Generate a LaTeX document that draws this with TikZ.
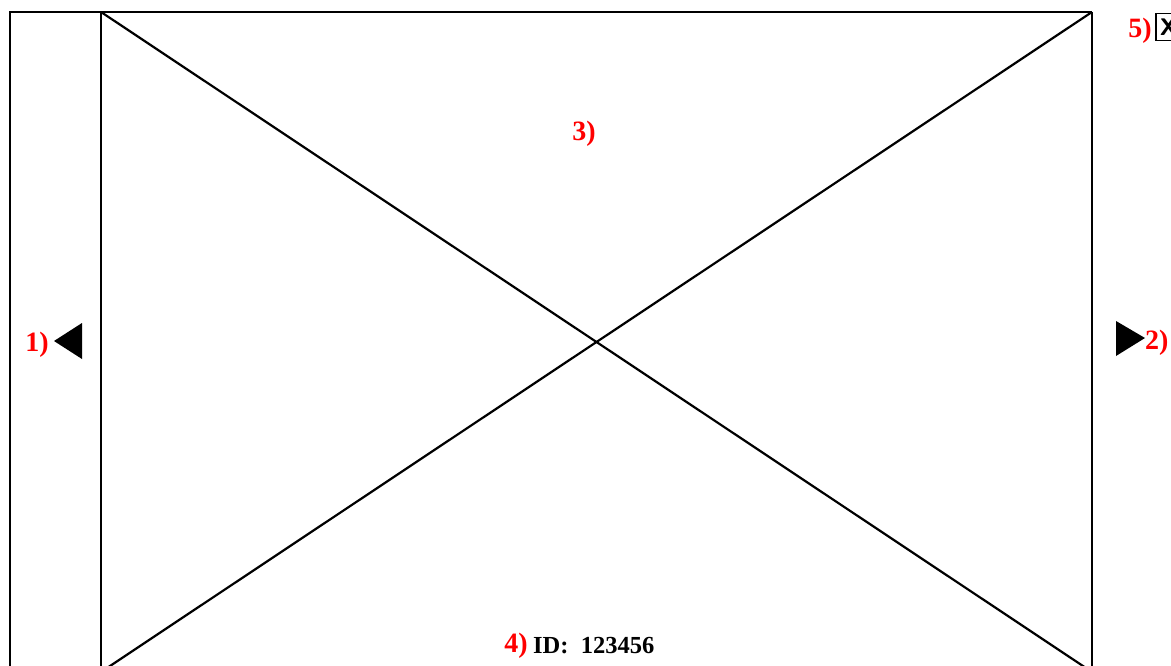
\documentclass[tikz,border=0pt]{standalone}
\usepackage{fontspec}
\setmainfont{Liberation Serif}
\begin{document}
\begin{tikzpicture}[x=1pt,y=-1pt,
  frame/.style={line width=2.2pt,black},
  redlab/.style={text=red,font=\bfseries\fontsize{28}{28}\selectfont,inner sep=0pt},
  blacklab/.style={text=black,font=\bfseries\fontsize{24.5}{24.5}\selectfont,inner sep=0pt},
  arrowtri/.style={fill=black,draw=none}]
\useasboundingbox (0,0) rectangle (1171,666);
\clip (0,0) rectangle (1171,666);
\coordinate (otl) at (10,12);
\coordinate (obl) at (10,672);
\coordinate (itl) at (101,12);
\coordinate (itr) at (1092,12);
\coordinate (ibl) at (101,672);
\coordinate (ibr) at (1092,672);
% outer frame
\draw[frame] (obl) -- (otl) -- (itr);
% inner image placeholder
\draw[frame] (itl) -- (ibl);
\draw[frame] (itr) -- (ibr);
\draw[frame] (ibl) -- (ibr);
\draw[frame] (itl) -- (ibr);
\draw[frame] (itr) -- (ibl);
% arrows
\fill[arrowtri] (54,341) -- (82,323) -- (82,359) -- cycle;
\fill[arrowtri] (1116,321) -- (1145,338) -- (1116,356) -- cycle;
% labels
\node[redlab,anchor=east] (l1) at (49,345) {1)};
\node[redlab,anchor=west] (l2) at (1145,343) {2)};
\node[redlab] (l3) at (584,134) {3)};
\node[redlab,anchor=east] (l4) at (528,646) {4)};
\node[blacklab,anchor=west] (id) at (533,646) {ID:\ \ 123456};
\node[redlab,anchor=east] (l5) at (1152,31) {5)};
% close box
\node[draw,line width=1.5pt,anchor=north west,minimum width=30pt,minimum height=27pt,inner sep=0pt,font=\sffamily\bfseries\fontsize{24}{24}\selectfont] (close) at (1155,13) {\hspace*{-4pt}X};
\end{tikzpicture}
\end{document}
